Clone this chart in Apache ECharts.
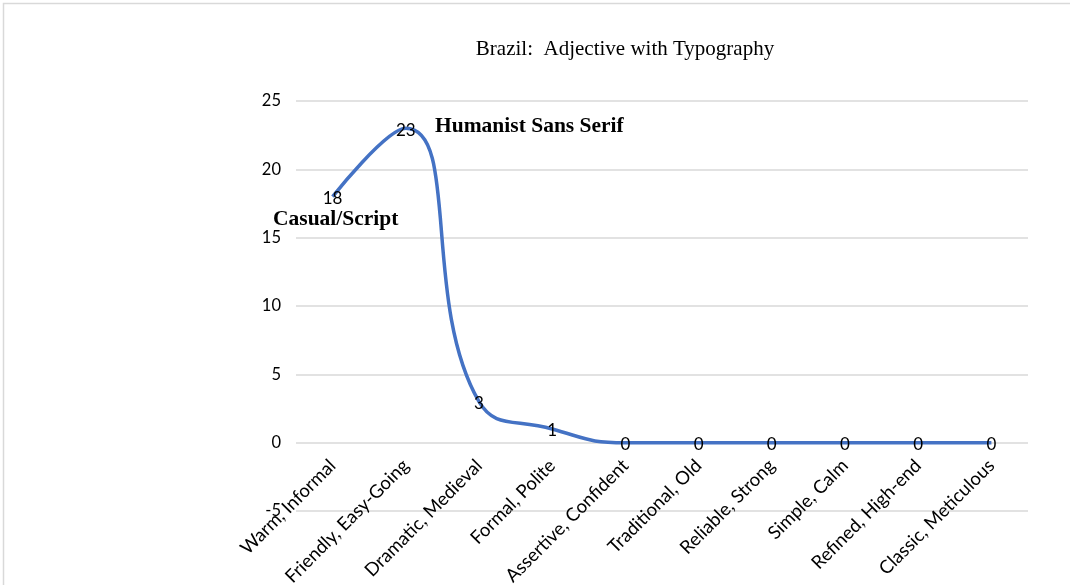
<!DOCTYPE html>
<html lang="en">
<head>
    <meta charset="UTF-8">
    <title>Brazil: Adjective with Typography</title>
    <script src="https://cdn.jsdelivr.net/npm/echarts@6/dist/echarts.min.js"></script>
    <style>
        html, body { margin: 0; padding: 0; background: #fff; }
    </style>
</head>
<body>
<div id="main" style="width: 1070px;height: 585px;"></div>
<script type="text/javascript">
    var adjectives = ['Warm, Informal', 'Friendly, Easy-Going', 'Dramatic, Medieval', 'Formal, Polite',
        'Assertive, Confident', 'Traditional, Old', 'Reliable, Strong', 'Simple, Calm',
        'Refined, High-end', 'Classic, Meticulous'];
    var votes = [18, 23, 3, 1, 0, 0, 0, 0, 0, 0];
    var yTicks = [-5, 0, 5, 10, 15, 20, 25];

    var myChart = echarts.init(document.getElementById('main'));

    var option = {
        backgroundColor: '#fff',
        animation: false,
        title: {
            text: 'Brazil:  Adjective with Typography',
            left: 620,
            textAlign: 'center',
            top: 34,
            textStyle: {
                fontFamily: 'Liberation Serif',
                fontWeight: 'normal',
                fontSize: 21,
                color: '#000'
            }
        },
        grid: {
            left: 296,
            right: 42,
            top: 101,
            bottom: 74,
            outerBoundsMode: 'none'
        },
        xAxis: {
            type: 'category',
            data: adjectives,
            boundaryGap: true,
            // category labels hang from the zero line, not from the bottom of the plot
            offset: -68.4,
            axisLine: { show: false, onZero: false },
            axisTick: { show: false },
            axisLabel: {
                rotate: 45,
                interval: 0,
                margin: 20,
                fontFamily: 'Lato',
                fontSize: 18.5,
                color: '#000'
            }
        },
        yAxis: {
            type: 'value',
            min: yTicks[0],
            max: yTicks[yTicks.length - 1],
            interval: 5,
            axisLine: { show: false },
            axisTick: { show: false },
            axisLabel: {
                margin: 15,
                fontFamily: 'Lato',
                fontSize: 16.5,
                color: '#000'
            },
            splitLine: {
                lineStyle: { color: '#d9d9d9', width: 1.5 }
            }
        },
        series: [{
            name: 'Brazil',
            type: 'line',
            data: votes,
            smooth: 0.5,
            showSymbol: true,
            symbol: 'circle',
            symbolSize: 1,
            lineStyle: { color: '#4472c4', width: 3.5 },
            itemStyle: { color: 'rgba(0,0,0,0)', borderWidth: 0 },
            label: {
                show: true,
                position: 'inside',
                offset: [0, 2],
                fontFamily: 'Lato',
                fontSize: 17,
                color: '#000'
            }
        }],
        graphic: [
            {
                type: 'rect',
                shape: { x: 3.5, y: 3.5, width: 1200, height: 700 },
                style: { fill: 'none', stroke: '#d9d9d9', lineWidth: 1.5 },
                silent: true
            },
            {
                type: 'text',
                left: 435,
                top: 115,
                style: {
                    text: 'Humanist Sans Serif',
                    font: 'bold 21.5px "Liberation Serif"',
                    fill: '#000'
                }
            },
            {
                type: 'text',
                left: 273,
                top: 208,
                style: {
                    text: 'Casual/Script',
                    font: 'bold 21.5px "Liberation Serif"',
                    fill: '#000'
                }
            }
        ]
    };
    myChart.setOption(option);
</script>
</body>
</html>
